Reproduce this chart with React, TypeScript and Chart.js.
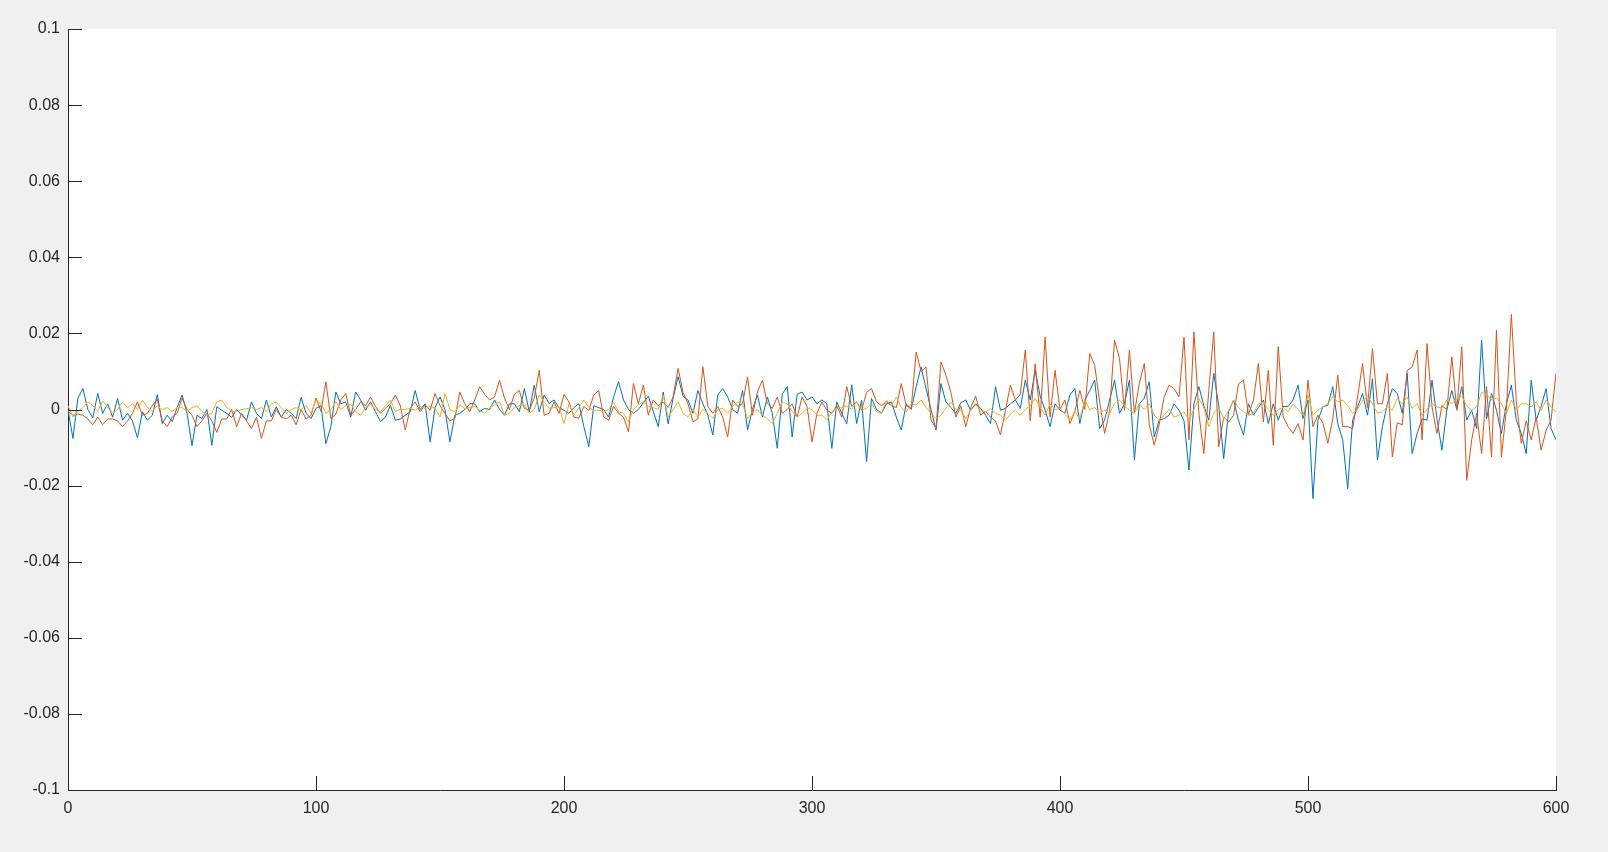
import React, { useEffect, useRef } from "react";
import { Chart, registerables } from "chart.js";

Chart.register(...registerables);

// sample spacing along x (values are read every 2 units from the picture)
const sampleStep = 2;
const xMin = 0;
const xMax = 600;
const xTickValues = [0, 100, 200, 300, 400, 500, 600];
const xTickLabels = ["0", "100", "200", "300", "400", "500", "600"];
const yMin = -0.1;
const yMax = 0.1;
const yTickValues = [-0.1, -0.08, -0.06, -0.04, -0.02, 0, 0.02, 0.04, 0.06, 0.08, 0.1];
const yTickLabels = ["-0.1", "-0.08", "-0.06", "-0.04", "-0.02", "0", "0.02", "0.04", "0.06", "0.08", "0.1"];

const blueValues = [
  0, -0.0076, 0.003, 0.0055, 0, -0.0022, 0.0042, -0.001, 0.0015, -0.002, 0.0029, -0.0028, -0.001, -0.003, -0.0074, -0.0006, -0.0028, -0.0015, 0.0039, -0.0037, -0.0015, -0.0032, 0.0005, 0.0038, -0.001, -0.0095, -0.0015, -0.0024, 0, -0.0094, 0.0007, -0.0002, -0.001, -0.0021, 0, -0.0015, -0.0028, 0.002, -0.001, -0.0024, 0.0025, -0.002, 0.0007, -0.002, 0, -0.001, -0.0024, 0.0032, -0.001, -0.0024, 0.0003,
  0.001, -0.009, -0.0045, 0.0046, 0.0015, 0.002, -0.002, 0.0046, 0.0025, -0.0002, 0.002, -0.0006, -0.0032, -0.002, 0.0011, -0.0028, -0.0025, -0.0015, -0.0006, 0.005, 0, 0.0015, -0.0085, 0.0005, 0.0033, 0, -0.0085, -0.0015, -0.001, 0, 0.0015, 0.0015, -0.0006, 0.0003, 0, 0.0025, 0, -0.0015, 0.0015, 0.0015, -0.0006, 0.0055, -0.0006, 0.0064, -0.0006, 0.0038, 0.0016, 0.0025, 0.0005, -0.0002,
  -0.001, 0.0005, 0.0015, -0.0045, -0.0098, 0.001, 0.0005, 0, -0.002, 0.0033, 0.0073, 0.0025, 0, -0.001, 0, 0.0018, 0.0035, -0.0005, -0.0045, 0.0046, -0.0038, 0.003, 0.0086, 0.0035, 0.0025, -0.001, 0.005, 0.0015, -0.0015, -0.0067, 0.0038, 0.0055, 0.0033, 0, -0.001, 0.005, -0.0054, 0, 0.0038, -0.002, 0.0033, -0.001, -0.0102, 0.004, 0.006, -0.0072, 0.004, 0.0046, 0.0025, 0.0033,
  0.0015, 0.0025, 0.0015, -0.0102, 0.002, -0.001, -0.0037, 0.0065, -0.0037, 0.0025, -0.0137, 0.0029, 0, -0.001, 0.0015, 0.002, -0.002, -0.0054, 0.0015, 0, 0.006, 0.0112, 0.0055, 0, -0.0054, 0.0068, 0.002, 0.0005, -0.001, 0.0018, 0.0025, -0.0002, 0.0015, 0.0003, -0.0015, -0.0037, 0.006, -0.0002, 0.0003, 0.0015, 0.0025, 0.0003, 0.0077, 0.0025, 0.0103, 0.0035, -0.0002, -0.0045, 0.0015, -0.0002,
  -0.001, 0.0038, 0.0055, -0.0037, 0.0025, 0.005, 0.0077, -0.005, -0.0028, 0.0025, 0.0077, -0.001, 0.0015, 0.0077, -0.0133, 0.0015, 0.003, 0.0073, -0.0072, -0.0028, -0.0024, -0.0015, 0.0015, -0.0002, -0.003, -0.0159, 0.0015, 0.006, 0.001, -0.0028, 0.0095, 0.001, -0.0129, -0.0005, 0.0025, -0.003, -0.0067, 0.0015, -0.0015, 0.0005, 0.0025, -0.0037, 0.0015, -0.0028, 0.0008, 0.0008, 0.0025, 0.0064, -0.0024, 0.0025,
  -0.0234, -0.0028, 0.0007, 0.0011, 0.006, -0.0037, -0.008, -0.0208, -0.0028, 0.0007, 0.0042, -0.0015, 0.0081, -0.0133, -0.0045, 0.0015, 0.0055, 0.0042, -0.001, 0.0095, -0.0116, -0.0063, -0.0025, -0.0028, 0.0077, -0.0024, -0.0107, 0, 0.005, 0, 0.006, -0.0028, -0.0002, -0.005, 0.0182, -0.0025, 0.0042, -0.0002, -0.0063, 0.0015, 0.0064, -0.0028, -0.0063, -0.0116, 0.0077, -0.0028, 0.0008, 0.0055, -0.005, -0.008,
];

const orangeValues = [
  -0.0005, -0.0015, -0.0012, -0.0015, -0.0025, -0.004, -0.002, -0.004, -0.0025, -0.0025, -0.003, -0.0045, -0.003, -0.001, 0.002, -0.0015, -0.001, 0.001, 0.0027, -0.003, -0.0045, -0.002, -0.001, 0.003, 0, -0.0015, -0.0045, -0.003, -0.001, -0.003, -0.006, -0.0025, -0.0025, 0, -0.0045, -0.001, -0.003, -0.005, -0.002, -0.0076, -0.003, -0.003, 0, -0.002, -0.0025, -0.0015, -0.004, 0, -0.0025, -0.0015, 0.003,
  -0.0005, 0.0073, -0.0024, -0.0012, 0.0025, 0.0042, -0.0015, 0, 0.002, 0.001, 0.0033, 0.0008, -0.001, 0.0003, 0.0015, 0.0038, 0.001, -0.0054, 0.0003, 0.002, -0.0006, 0.0012, -0.0002, 0.0042, 0.001, -0.001, -0.003, -0.0023, 0.0046, 0.0015, -0.0006, 0.0025, 0.006, 0.004, 0.0025, 0.0033, 0.0077, 0.003, 0, 0.004, 0.005, 0.0003, -0.0002, 0.003, 0.0103, -0.0015, -0.001, 0.002, -0.001, 0.004,
  0.002, -0.002, -0.0023, 0.0008, -0.0002, 0.0038, 0.005, -0.002, -0.0028, 0.0008, -0.001, -0.002, -0.0059, 0.0068, 0.0015, 0.0064, -0.0015, 0.0025, 0.001, 0.002, 0.0005, 0.0033, 0.0108, 0.0045, 0.0015, -0.0032, -0.0025, 0.0112, 0.0008, -0.001, 0.0008, -0.002, -0.0072, 0.0025, 0.0008, 0.0015, 0.0086, -0.0015, 0.0046, 0.0077, 0.0015, 0.0003, 0.0033, -0.001, 0, 0.0015, -0.002, 0.0033, 0.0008, -0.0085,
  -0.001, 0.002, -0.0002, -0.001, 0.001, -0.002, 0.006, 0.0008, 0.002, -0.0002, 0.0045, 0.0055, 0.002, 0.001, 0.002, 0.001, 0.0005, 0.0068, 0.001, 0.0003, 0.0151, 0.01, 0.0112, -0.0028, -0.005, 0.0125, 0.009, 0.0045, -0.002, 0.001, -0.0045, 0.0005, 0.0035, -0.0015, -0.0005, -0.002, -0.003, -0.0067, -0.0002, 0.0064, 0.0025, 0.004, 0.0156, -0.003, 0.012, -0.002, 0.019, -0.002, 0.0103, 0,
  0.0025, -0.0037, -0.0005, 0.005, 0, 0.0147, 0.0116, 0.002, -0.0063, -0.0005, 0.0182, 0.0134, -0.0002, 0.0156, -0.001, 0.007, 0.0121, -0.004, -0.0094, -0.004, 0.0033, 0.0064, 0.0055, 0.0033, 0.019, -0.008, 0.0204, -0.001, -0.0116, 0.005, 0.0204, -0.0098, -0.002, -0.0033, -0.0015, 0.0068, 0.0077, -0.0013, 0.0025, 0.0121, -0.0033, 0.0103, -0.0094, 0.0165, -0.002, -0.0045, -0.0063, -0.0037, -0.008, 0.0077,
  -0.0045, -0.0015, -0.0035, -0.0089, -0.0025, 0.009, -0.0045, -0.0045, -0.005, 0.0033, 0.0121, 0.0005, 0.016, 0.0015, 0.0015, 0.0095, -0.0124, -0.0035, -0.004, 0.0103, 0.0112, 0.0156, -0.008, 0.0173, 0.0007, -0.0063, 0.001, 0, 0.0138, -0.0002, 0.0165, -0.0186, -0.008, -0.001, -0.0116, 0.006, -0.0124, 0.0208, -0.0124, 0, 0.025, 0.002, -0.0089, -0.003, -0.008, -0.002, -0.0107, -0.0055, -0.0028, 0.0095,
];

const yellowValues = [
  0.001, -0.002, -0.0005, 0.0005, 0.002, 0.001, -0.0005, 0.0022, 0.0005, -0.001, 0, 0.002, 0.0005, 0.0015, 0, 0.0025, 0.0005, -0.0005, 0.001, 0, 0.0005, -0.0005, 0.0005, 0.0005, -0.0005, 0.0005, 0.001, -0.0005, -0.0015, -0.001, 0.002, 0.0025, 0.0005, -0.0005, -0.0005, 0, 0.0002, 0.0005, 0, 0.0005, -0.0005, 0.0015, 0.002, 0.0005, -0.001, 0, 0.0005, 0, 0.001, -0.001, 0.0025,
  0.0015, -0.001, 0, 0.002, 0, 0.001, 0.0013, -0.0005, -0.0015, 0.0005, 0.0015, 0, -0.0006, 0.001, 0.0025, -0.0005, 0, 0, 0.0003, -0.0002, 0.0008, 0.0003, 0.0008, 0.0003, -0.002, 0.0042, 0, -0.0006, 0.0012, 0.0003, 0.0005, 0.0008, -0.0002, -0.001, 0.0005, 0.0012, 0.002, -0.0015, -0.001, 0.0005, 0.001, 0.0012, -0.001, 0, 0.0038, 0.002, 0.0003, 0.0005, 0.0008, -0.0037,
  0.0015, -0.0015, 0.0005, 0.0025, 0.0005, -0.0002, -0.0002, -0.0006, 0, 0.002, -0.0006, -0.001, -0.0032, 0, 0.0012, 0.002, 0.0008, 0.0005, 0, 0.0038, -0.002, 0, 0.002, -0.001, -0.002, 0, -0.002, 0, -0.001, -0.0024, 0, 0.0003, -0.001, 0.0008, 0.002, 0.0015, -0.0024, -0.0006, 0, -0.0015, -0.0024, -0.0037, -0.001, 0.002, 0.0015, -0.0005, -0.002, -0.001, 0.0003, 0,
  -0.0015, -0.0015, -0.0028, -0.0006, 0.0003, 0.0005, 0.001, 0, 0.002, -0.0002, 0.0003, 0.0015, -0.0006, -0.001, 0.0025, 0.001, 0.0033, 0.0005, -0.0006, 0.0015, 0.0012, 0.0025, 0.0005, -0.001, -0.0024, -0.0015, 0.0003, 0.002, 0, -0.0002, -0.0024, -0.0002, 0.0012, -0.0002, -0.0006, 0.0003, -0.001, -0.0015, -0.0028, -0.0012, -0.0002, -0.0015, 0, 0.001, 0.0029, 0.0005, -0.0015, 0.0015, 0, 0.0003,
  -0.0012, -0.0028, -0.0005, -0.0025, 0.0025, 0, 0.0005, -0.001, -0.0002, -0.001, 0.0016, 0.0025, 0.001, -0.0002, -0.001, 0.0015, 0, 0.0015, -0.0015, -0.0028, -0.0015, 0, -0.002, -0.0015, -0.0006, -0.0028, 0, 0.0029, 0.0005, -0.0045, -0.001, 0.0005, -0.0025, -0.0002, 0.0025, 0.0005, -0.0006, -0.0015, -0.001, 0.0015, 0.002, 0, -0.0015, 0, 0.0005, -0.0006, 0.0015, 0, -0.0015, 0.0038,
  -0.0015, -0.0002, 0.0007, 0.0015, 0.0033, 0.002, 0.0025, 0.001, -0.001, 0, 0.0025, 0.0033, 0.0015, -0.001, -0.0006, 0.0007, -0.0002, 0.0029, 0.0015, 0.0033, 0.0003, 0.0015, -0.0015, 0, 0.0015, 0.0007, 0.0003, 0.0025, 0.0015, 0.0029, 0.0035, 0.001, -0.0002, 0.0007, 0.0045, 0.004, 0.0025, 0.003, 0.0015, -0.001, 0.0025, 0, 0.0015, 0.0015, 0.0007, 0.002, -0.0002, 0.0025, 0.0007, -0.0006,
];

const seriesColors = ["#0072BD", "#D95319", "#EDB120"];
const axisColor = "#262626";
const figureBg = "#f0f0f0";
const fontFamily = "'Liberation Sans', Arial, Helvetica, sans-serif";

export default function App() {
  const canvasRef = useRef<HTMLCanvasElement | null>(null);

  useEffect(() => {
    const canvas = canvasRef.current;
    if (!canvas) return;

    const toPoints = (vals: number[]) => vals.map((y, i) => ({ x: xMin + i * sampleStep, y }));

    const plotBackground = {
      id: "plotBackground",
      beforeDraw(chart: any) {
        const { ctx, chartArea: a } = chart;
        ctx.save();
        ctx.fillStyle = "#ffffff";
        ctx.fillRect(a.left, a.top, a.right - a.left, a.bottom - a.top);
        ctx.restore();
      },
    };

    const innerTicks = {
      id: "innerTicks",
      afterDatasetsDraw(chart: any) {
        const { ctx, chartArea: a, scales } = chart;
        const len = 14;
        ctx.save();
        ctx.strokeStyle = axisColor;
        ctx.lineWidth = 1;
        ctx.beginPath();
        for (const t of scales.y.ticks) {
          const py = Math.round(scales.y.getPixelForValue(t.value)) + 0.5;
          ctx.moveTo(a.left, py);
          ctx.lineTo(a.left + len, py);
        }
        for (const t of scales.x.ticks) {
          const px = Math.round(scales.x.getPixelForValue(t.value)) + 0.5;
          ctx.moveTo(px, a.bottom);
          ctx.lineTo(px, a.bottom - len);
        }
        ctx.stroke();
        ctx.restore();
      },
    };

    const tickFont = { family: fontFamily, size: 16 };

    const chart = new Chart(canvas, {
      type: "line",
      data: {
        datasets: [
          { data: toPoints(blueValues), borderColor: seriesColors[0], order: 2 },
          { data: toPoints(orangeValues), borderColor: seriesColors[1], order: 1 },
          { data: toPoints(yellowValues), borderColor: seriesColors[2], order: 0 },
        ].map((d) => ({
          ...d,
          borderWidth: 1,
          pointRadius: 0,
          pointHoverRadius: 0,
          tension: 0,
          fill: false,
        })),
      },
      options: {
        responsive: false,
        animation: false,
        devicePixelRatio: 1,
        parsing: true,
        layout: { padding: { top: 29, right: 52, bottom: 0, left: 0 } },
        plugins: { legend: { display: false }, tooltip: { enabled: false } },
        events: [],
        scales: {
          x: {
            type: "linear",
            min: xMin,
            max: xMax,
            afterBuildTicks: (s: any) => {
              s.ticks = xTickValues.map((v) => ({ value: v }));
            },
            afterFit: (s: any) => {
              s.height = 62;
            },
            ticks: {
              font: tickFont,
              color: axisColor,
              padding: 9,
              maxRotation: 0,
              autoSkip: false,
              callback: (_v: any, i: number) => xTickLabels[i],
            },
            grid: { display: false, drawTicks: false },
            border: { display: true, color: axisColor, width: 1 },
          },
          y: {
            type: "linear",
            min: yMin,
            max: yMax,
            afterBuildTicks: (s: any) => {
              s.ticks = yTickValues.map((v) => ({ value: v }));
            },
            afterFit: (s: any) => {
              s.width = 68;
            },
            ticks: {
              font: tickFont,
              color: axisColor,
              padding: 8,
              autoSkip: false,
              callback: (_v: any, i: number) => yTickLabels[i],
            },
            grid: { display: false, drawTicks: false },
            border: { display: true, color: axisColor, width: 1 },
          },
        },
      } as any,
      plugins: [plotBackground, innerTicks],
    });

    return () => chart.destroy();
  }, []);

  return (
    <div
      style={{
        position: "fixed",
        left: 0,
        top: 0,
        width: 1608,
        height: 852,
        background: figureBg,
        overflow: "hidden",
      }}
    >
      <canvas ref={canvasRef} width={1608} height={852} style={{ display: "block", width: 1608, height: 852 }} />
    </div>
  );
}
